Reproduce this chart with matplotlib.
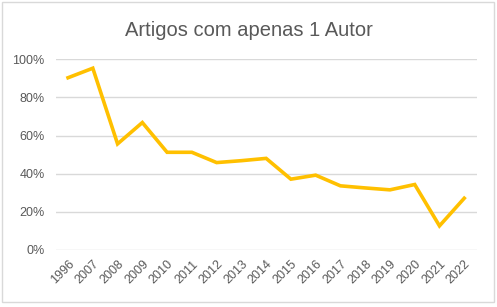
import matplotlib.pyplot as plt
from matplotlib.patches import Rectangle
from matplotlib.ticker import PercentFormatter

anos = ['1996', '2007', '2008', '2009', '2010', '2011', '2012', '2013', '2014',
        '2015', '2016', '2017', '2018', '2019', '2020', '2021', '2022']
um_autor = [90.3, 95.3, 55.6, 66.8, 51.2, 51.2, 45.8, 46.8, 48.0,
            37.1, 39.2, 33.6, 32.5, 31.5, 34.3, 12.6, 27.1]

plt.rcParams['font.family'] = ['Liberation Sans', 'DejaVu Sans']

fig = plt.figure(figsize=(4.97, 3.07), dpi=100)
# moldura cinza clara, como no Excel
fig.add_artist(Rectangle((2 / 497, 1 - 302 / 307), 492 / 497, 300 / 307,
                         transform=fig.transFigure, fill=False,
                         edgecolor='#D9D9D9', linewidth=1))
ax = fig.add_axes([0.112, 0.186, 0.847, 0.621])

x = range(len(anos))
ax.plot(x, um_autor, color='#FFC000', linewidth=2.6, solid_joinstyle='miter')

ax.set_ylim(0, 100)
ax.set_yticks([0, 20, 40, 60, 80, 100])
ax.yaxis.set_major_formatter(PercentFormatter(decimals=0))
ax.set_xlim(-0.5, len(anos) - 0.5)
ax.set_xticks(list(x))
ax.set_xticklabels(anos, rotation=45, ha='right', rotation_mode='anchor')

ax.grid(axis='y', color='#D9D9D9', linewidth=1)
ax.set_axisbelow(True)
for s in ax.spines.values():
    s.set_visible(False)
ax.tick_params(length=0, labelsize=9, labelcolor='#595959')
ax.tick_params(axis='x', pad=6)
ax.tick_params(axis='y', pad=8)

fig.text(0.5, 1 - 36 / 307, 'Artigos com apenas 1 Autor', fontsize=14.5,
         color='#595959', ha='center', va='baseline')

fig.savefig('out.png', dpi=100)
